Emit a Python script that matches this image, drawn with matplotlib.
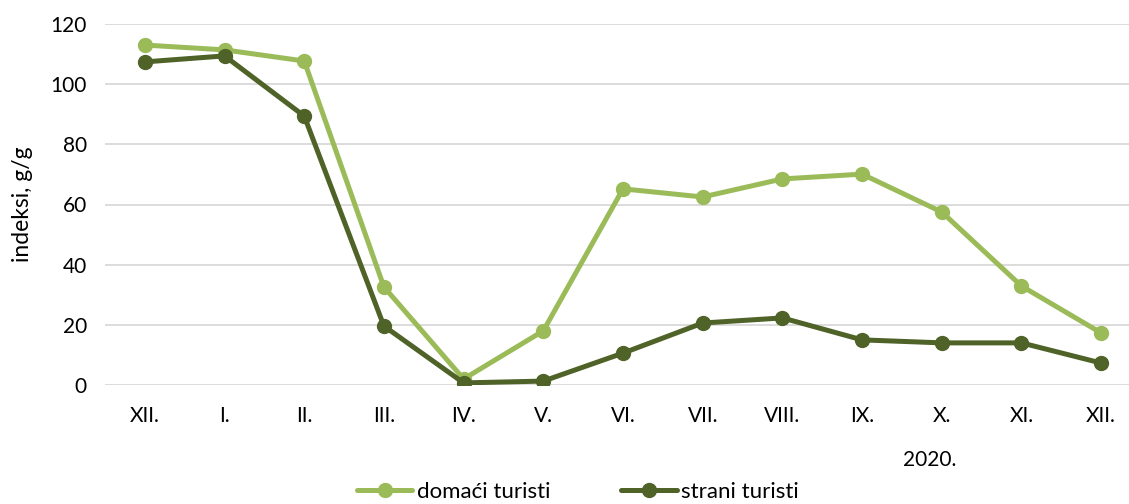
import matplotlib.pyplot as plt

# data
months = ["XII.", "I.", "II.", "III.", "IV.", "V.", "VI.", "VII.", "VIII.", "IX.", "X.", "XI.", "XII."]
domaci = [113.0, 111.4, 107.7, 32.6, 2.0, 18.0, 65.2, 62.5, 68.5, 70.1, 57.5, 32.9, 17.3]
strani = [107.4, 109.4, 89.4, 19.6, 0.7, 1.3, 10.6, 20.6, 22.3, 15.0, 14.0, 14.0, 7.3]
year_label = "2020."

light = "#9BBB59"
dark = "#4F6228"
plt.rcParams['font.family'] = ['Lato', 'DejaVu Sans']

W, H = 1129, 504
fig = plt.figure(figsize=(W / 100, H / 100), dpi=100)
# plot area: x 105..1141 px, y 24..385 px
ax = fig.add_axes([105 / W, 1 - 385 / H, (1141 - 105) / W, (385 - 24) / H])

x = range(len(months))
ax.plot(x, domaci, color=light, lw=3.6, marker="o", ms=10, label="domaći turisti",
        solid_capstyle="round", zorder=3)
ax.plot(x, strani, color=dark, lw=3.6, marker="o", ms=10, label="strani turisti",
        solid_capstyle="round", zorder=3)

ax.set_xlim(-0.5, len(months) - 0.5)
ax.set_ylim(0, 120)
ax.set_yticks(range(0, 121, 20))
ax.set_xticks(list(x))
ax.set_xticklabels(months)
ax.grid(axis="y", color="#D9D9D9", lw=1.3)
ax.set_axisbelow(True)
for s in ax.spines.values():
    s.set_visible(False)
ax.tick_params(length=0, labelsize=15, colors="#000000")
ax.tick_params(axis="x", pad=15)
ax.tick_params(axis="y", pad=13)
ax.set_ylabel("indeksi, g/g", fontsize=16.5)
ax.yaxis.set_label_coords(-72 / (1141 - 105), 0.5)

ax.text(9.85, -25, year_label, fontsize=15, ha="center", va="center")

leg = fig.legend(loc="center", bbox_to_anchor=(578 / W, 1 - 492 / H), ncol=2,
                 frameon=False, fontsize=16, handlelength=2.5, handletextpad=0.2,
                 columnspacing=3.2)

fig.savefig("out.png", dpi=100)
